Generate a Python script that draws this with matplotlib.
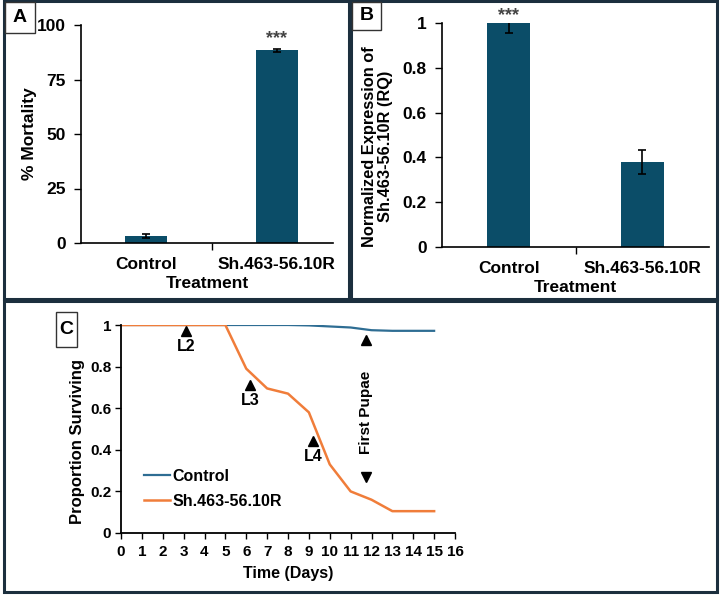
import numpy as np
import matplotlib
matplotlib.use('Agg')
import matplotlib.pyplot as plt
from matplotlib.patches import Rectangle

plt.rcParams['font.family'] = ['Liberation Sans', 'DejaVu Sans']
plt.rcParams['font.weight'] = 'bold'

# datos
tratamientos = ['Control', 'Sh.463-56.10R']
mortalidad = [3.2, 88.5]
mortalidad_err = [0.8, 0.7]
expresion = [1.0, 0.38]
expresion_err = [0.045, 0.055]

dias = [0, 1, 2, 3, 4, 5, 6, 7, 8, 9, 10, 11, 12, 13, 14, 15]
sup_control = [1, 1, 1, 1, 1, 1, 1, 1, 1, 0.998, 0.993, 0.988, 0.975, 0.972, 0.972, 0.972]
sup_sh = [1, 1, 1, 1, 1, 1, 0.79, 0.695, 0.67, 0.58, 0.33, 0.2, 0.16, 0.105, 0.105, 0.105]

estadios = ['L2', 'L3', 'L4']
estadio_x = [3.1, 6.2, 9.2]
estadio_y = [0.97, 0.71, 0.44]

color_barra = '#0b4d68'
color_ctrl = '#2e6d93'
color_sh = '#f07d3a'
borde = '#1c2f3e'

fig = plt.figure(figsize=(7.2, 5.95), dpi=100)

# marcos de los paneles
for (x0, y0, x1, y1) in [(4, 1, 349, 299), (351, 1, 717, 299), (4, 301, 717, 592)]:
    fig.patches.append(Rectangle((x0 / 720, 1 - y1 / 595), (x1 - x0) / 720, (y1 - y0) / 595,
                                 transform=fig.transFigure, fill=False, ec=borde, lw=2.2))


def barras(ax, vals, errs, xlim_r):
    ax.bar([0, 1], vals, width=0.32, color=color_barra, zorder=2)
    ax.errorbar([0, 1], vals, yerr=errs, fmt='none', ecolor='black', capsize=3, elinewidth=1.2,
                capthick=1.2, zorder=3, clip_on=True)
    ax.set_xlim(-0.5, xlim_r)
    ax.set_xticks([0, 1])
    ax.set_xticklabels(tratamientos, fontsize=12.5, fontweight='bold')
    ax.tick_params(axis='x', length=0, pad=10)
    ax.set_xticks([0.5], minor=True)
    ax.tick_params(axis='x', which='minor', length=5, width=1, direction='out')
    ax.tick_params(axis='y', length=5, width=1, direction='out', labelsize=12.5, pad=6)
    for lab in ax.get_yticklabels():
        lab.set_fontweight('bold')
    for s in ['top', 'right']:
        ax.spines[s].set_visible(False)
    ax.spines['left'].set_linewidth(1.2)
    ax.spines['bottom'].set_linewidth(1.2)
    ax.set_xlabel('Treatment', fontsize=12.5, fontweight='bold', labelpad=3)


# Panel A
axA = fig.add_axes([81 / 720, 1 - 243 / 595, 252 / 720, 218 / 595])
barras(axA, mortalidad, mortalidad_err, 1.43)
axA.set_ylim(0, 100)
axA.set_yticks([0, 25, 50, 75, 100])
axA.set_ylabel('% Mortality', fontsize=12.5, fontweight='bold')
axA.yaxis.set_label_coords(-0.175, 0.5)
axA.text(1, mortalidad[1] + 1.5, '***', ha='center', va='bottom', fontsize=13, color='#444444')

# Panel B
axB = fig.add_axes([442 / 720, 1 - 247 / 595, 267 / 720, 224 / 595])
barras(axB, expresion, expresion_err, 1.5)
axB.set_ylim(0, 1)
axB.set_yticks([0, 0.2, 0.4, 0.6, 0.8, 1.0])
axB.set_yticklabels(['0', '0.2', '0.4', '0.6', '0.8', '1'])
for lab in axB.get_yticklabels():
    lab.set_fontweight('bold')
axB.set_ylabel('Normalized Expression of\nSh.463-56.10R (RQ)', fontsize=11.8, fontweight='bold',
               linespacing=1.05)
axB.yaxis.set_label_coords(-0.185, 0.45)
axB.text(0, 0.995, '***', ha='center', va='bottom', fontsize=13, color='#444444')

# Panel C
axC = fig.add_axes([121 / 720, 1 - 533 / 595, 334 / 720, 208 / 595])
axC.plot(dias, sup_control, color=color_ctrl, lw=1.6, label='Control')
axC.plot(dias, sup_sh, color=color_sh, lw=1.8, label='Sh.463-56.10R')
axC.set_xlim(0, 16)
axC.set_ylim(0, 1)
axC.set_xticks(range(0, 17))
axC.set_yticks([0, 0.2, 0.4, 0.6, 0.8, 1.0])
axC.set_yticklabels(['0', '0.2', '0.4', '0.6', '0.8', '1'])
axC.tick_params(axis='both', length=4, width=1, direction='out', labelsize=11)
axC.tick_params(axis='y', pad=3)
axC.tick_params(axis='x', pad=5)
for lab in axC.get_xticklabels() + axC.get_yticklabels():
    lab.set_fontweight('bold')
for s in ['top', 'right']:
    axC.spines[s].set_visible(False)
axC.spines['left'].set_linewidth(1.3)
axC.spines['bottom'].set_linewidth(1.3)
axC.set_xlabel('Time (Days)', fontsize=11.5, fontweight='bold', labelpad=5)
axC.set_ylabel('Proportion Surviving', fontsize=12, fontweight='bold')
axC.yaxis.set_label_coords(-0.108, 0.44)

for nombre, xx, yy in zip(estadios, estadio_x, estadio_y):
    axC.plot(xx, yy, marker='^', color='black', ms=7, ls='none')
    axC.text(xx, yy - 0.035, nombre, ha='center', va='top', fontsize=11.5, fontweight='bold')

axC.plot(11.75, 0.93, marker='^', color='black', ms=7, ls='none')
axC.plot(11.72, 0.27, marker='v', color='black', ms=7, ls='none')
axC.text(11.72, 0.58, 'First Pupae', rotation=90, ha='center', va='center', fontsize=11, fontweight='bold')

axC.legend(loc='lower left', bbox_to_anchor=(0.05, 0.085), frameon=False,
           handlelength=1.6, handletextpad=0.15, labelspacing=0.65, borderaxespad=0,
           prop={'weight': 'bold', 'size': 11.5})

# etiquetas de panel
for letra, (x0, y0, x1, y1) in zip(['A', 'B', 'C'], [(5, 2, 35, 33), (352, 2, 381, 30), (56, 312, 77, 347)]):
    fig.patches.append(Rectangle((x0 / 720, 1 - y1 / 595), (x1 - x0) / 720, (y1 - y0) / 595,
                                 transform=fig.transFigure, fc='white', ec='#333333', lw=1.0))
    fig.text((x0 + x1) / 2 / 720, 1 - (y0 + y1) / 2 / 595, letra, ha='center', va='center',
             fontsize=14, fontweight='bold')

fig.savefig('out.png', dpi=100)
